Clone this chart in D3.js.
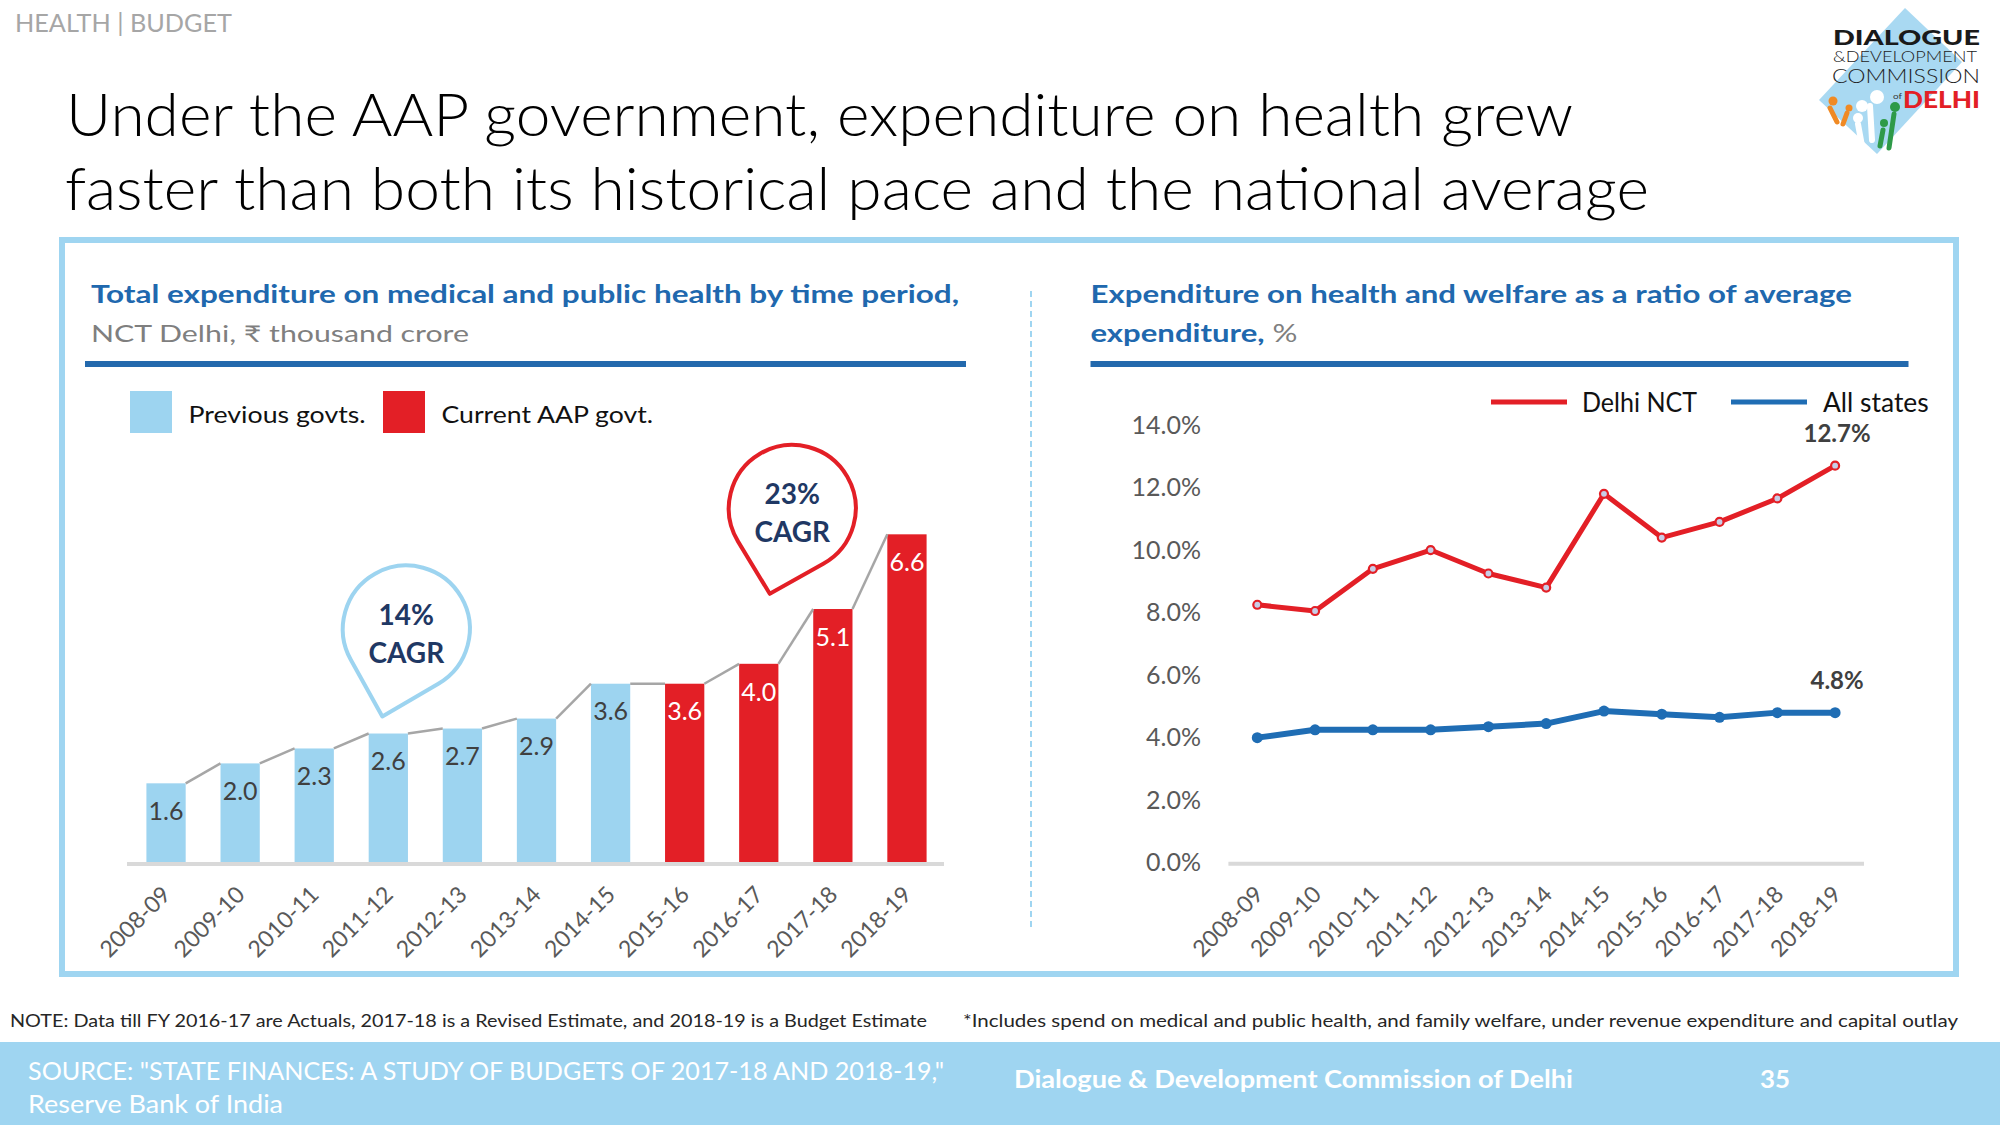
<!DOCTYPE html>
<html><head><meta charset="utf-8">
<script src="https://cdn.jsdelivr.net/npm/d3@7"></script>
<style>
body{margin:0;background:#fff}
svg{display:block}
text{font-family:Lato,"Noto Sans","DejaVu Sans",sans-serif}
</style>
</head><body>
<svg id="c" width="2000" height="1125"></svg>
<script>
// ---------------- DATA ----------------
const categories = ["2008-09","2009-10","2010-11","2011-12","2012-13","2013-14","2014-15","2015-16","2016-17","2017-18","2018-19"];
const expenditure = [1.6, 2.0, 2.3, 2.6, 2.7, 2.9, 3.6, 3.6, 4.0, 5.1, 6.6];
const government = ["prev","prev","prev","prev","prev","prev","prev","aap","aap","aap","aap"];
const govLegend = ["Previous govts.", "Current AAP govt."];
const delhiRatio = [8.25, 8.05, 9.4, 10.0, 9.25, 8.8, 11.8, 10.4, 10.9, 11.65, 12.7];
const allStatesRatio = [4.0, 4.25, 4.25, 4.25, 4.35, 4.45, 4.85, 4.75, 4.65, 4.8, 4.8];
const lineLegend = ["Delhi NCT", "All states"];
const ratioTicks = [0, 2, 4, 6, 8, 10, 12, 14];
const cagrCallouts = [
  {pct: "14%", anchor: "2011-12", value: 2.6, color: "prev"},
  {pct: "23%", anchor: "2016-17", value: 4.0, color: "aap"}
];

// ---------------- STYLE ----------------
const C = {
  light: "#9dd4f0", red: "#e31f26", navy: "#1f3864", blue: "#2068ae",
  lineBlue: "#1f6db4", grey: "#595959", axis: "#d9d9d9", frame: "#9fd5f1"
};
const svg = d3.select("#c");
svg.append("rect").attr("width",2000).attr("height",1125).attr("fill","#fff");

function txt(g, x, y, s, o = {}) {
  const t = g.append("text").attr("x", x).attr("y", y).text(s)
    .attr("font-size", o.size || 20)
    .attr("font-weight", o.weight || 400)
    .attr("fill", o.fill || "#000")
    .attr("text-anchor", o.anchor || "start");
  if (o.len) t.attr("textLength", o.len).attr("lengthAdjust", "spacingAndGlyphs");
  return t;
}

// ---------------- HEADER ----------------
txt(svg, 15, 32, "HEALTH | BUDGET", {size: 25, fill: "#a6a6a6", len: 217});
txt(svg, 66, 136, "Under the AAP government, expenditure on health grew", {size: 60, weight: 300, fill: "#000", len: 1507});
txt(svg, 65, 210, "faster than both its historical pace and the national average", {size: 60, weight: 300, fill: "#000", len: 1584});

// logo
const logo = svg.append("g");
logo.append("polygon").attr("points", "1905,8 1962,62 1877,154 1819,100").attr("fill", "#a9d9f2");
[[1833,101,4.5,"#f08a24"],[1849,108,3.5,"#f08a24"],[1877,97,7,"#fff"],[1862,106,6,"#fff"],[1858,118,5,"#fff"],[1895,107,5,"#2e9a48"],[1884,123,4,"#2e9a48"]]
  .forEach(([x,y,r,f]) => logo.append("circle").attr("cx",x).attr("cy",y).attr("r",r).attr("fill",f));
logo.append("path").attr("d","M1830,108 L1837,122 M1847,113 L1843,124").attr("stroke","#f08a24").attr("stroke-width",5).attr("stroke-linecap","round");
logo.append("path").attr("d","M1870,106 L1872,140 M1858,124 L1862,146").attr("stroke","#fff").attr("stroke-width",6).attr("stroke-linecap","round");
logo.append("path").attr("d","M1894,114 L1889,148 M1883,130 L1880,146").attr("stroke","#2e9a48").attr("stroke-width",5).attr("stroke-linecap","round");
const logoLines = [
  {s: "DIALOGUE", x: 1833, y: 45, size: 20, w: 900, f: "#1a1a1a", len: 147},
  {s: "&DEVELOPMENT", x: 1833, y: 62, size: 15, w: 300, f: "#222", len: 144},
  {s: "COMMISSION", x: 1832, y: 83, size: 19, w: 300, f: "#222", len: 148},
  {s: "of", x: 1893, y: 99, size: 8, w: 400, f: "#333", len: 9},
  {s: "DELHI", x: 1903, y: 108, size: 22, w: 900, f: "#e31f26", len: 77}
];
logoLines.forEach(l => txt(logo, l.x, l.y, l.s, {size: l.size, weight: l.w, fill: l.f, len: l.len}));

// ---------------- FRAME ----------------
svg.append("rect").attr("x",62).attr("y",240).attr("width",1894).attr("height",734)
  .attr("fill","none").attr("stroke",C.frame).attr("stroke-width",6);
svg.append("line").attr("x1",1031).attr("x2",1031).attr("y1",291).attr("y2",931)
  .attr("stroke",C.frame).attr("stroke-width",2).attr("stroke-dasharray","6,4");

// ---------------- LEFT PANEL ----------------
const L = svg.append("g");
txt(L, 91, 303, "Total expenditure on medical and public health by time period,", {size: 24, weight: 700, fill: C.blue, len: 868});
txt(L, 91, 342, "NCT Delhi, ₹ thousand crore", {size: 23, fill: "#7f7f7f", len: 378});
L.append("rect").attr("x",85).attr("y",361).attr("width",881).attr("height",6).attr("fill","#2369ad");

// legend
const legX = [130, 383], legTX = [188.6, 441.5], legLen = [177, 211.5];
govLegend.forEach((s, i) => {
  L.append("rect").attr("x", legX[i]).attr("y", 391).attr("width", 42).attr("height", 42)
    .attr("fill", i === 0 ? C.light : C.red);
  txt(L, legTX[i], 423, s, {size: 23, fill: "#111", len: legLen[i]});
});

const xB = d3.scaleBand().domain(categories).range([129, 944]).paddingInner(0.47).paddingOuter(0.235);
const yB = d3.scaleLinear().domain([0, 7]).range([863, 514.4]);
const bw = xB.bandwidth();

L.selectAll("rect.bar").data(expenditure).join("rect").attr("class","bar")
  .attr("x", (d,i) => xB(categories[i])).attr("width", bw)
  .attr("y", d => yB(d)).attr("height", d => yB(0) - yB(d))
  .attr("fill", (d,i) => government[i] === "prev" ? C.light : C.red);

// connectors
L.selectAll("line.conn").data(expenditure.slice(0, -1)).join("line").attr("class","conn")
  .attr("x1", (d,i) => xB(categories[i]) + bw).attr("y1", d => yB(d))
  .attr("x2", (d,i) => xB(categories[i+1])).attr("y2", (d,i) => yB(expenditure[i+1]))
  .attr("stroke", "#a6a6a6").attr("stroke-width", 2.5);

// bar labels
L.selectAll("text.bl").data(expenditure).join("text").attr("class","bl")
  .attr("x", (d,i) => xB(categories[i]) + bw/2).attr("y", d => yB(d) + 28).attr("dy","0.35em")
  .attr("text-anchor","middle").attr("font-size",25)
  .attr("fill", (d,i) => government[i] === "prev" ? "#404040" : "#fff")
  .text(d => d3.format(".1f")(d));

// axis line
L.append("line").attr("x1",127).attr("x2",944).attr("y1",yB(0)+1).attr("y2",yB(0)+1)
  .attr("stroke",C.axis).attr("stroke-width",4);

const axB = L.append("g").attr("transform",`translate(0,${yB(0)})`)
  .call(d3.axisBottom(xB).tickSize(0));
axB.select(".domain").remove();
axB.selectAll("text").attr("x",0).attr("y",0).attr("dy",null)
  .attr("transform","translate(6,33) rotate(-45)").attr("text-anchor","end")
  .attr("font-size",23).attr("fill",C.grey).attr("font-family","Lato, sans-serif");

// CAGR callouts
function teardrop(cx, cy, r, tx, ty) {
  const dx = tx - cx, dy = ty - cy, d = Math.hypot(dx, dy);
  const base = Math.atan2(dy, dx), a = Math.acos(r / d);
  const p1 = [cx + r*Math.cos(base + a), cy + r*Math.sin(base + a)];
  const p2 = [cx + r*Math.cos(base - a), cy + r*Math.sin(base - a)];
  return `M${tx},${ty}L${p1[0]},${p1[1]}A${r},${r} 0 1 1 ${p2[0]},${p2[1]}Z`;
}
const calloutGeom = [
  {dcx: 18, cyv: 4.7, dtx: -6, tipGap: 17},
  {dcx: 33.5, cyv: 7.12, dtx: 11, tipGap: 70}
];
cagrCallouts.forEach((c, i) => {
  const g = calloutGeom[i];
  const xc = xB(c.anchor) + bw/2;
  const cx = xc + g.dcx, cy = yB(g.cyv), r = 63.5;
  const tx = xc + g.dtx, ty = yB(c.value) - g.tipGap;
  L.append("path").attr("d", teardrop(cx, cy, r, tx, ty)).attr("fill","#fff")
    .attr("stroke", c.color === "prev" ? C.light : C.red).attr("stroke-width", 4).attr("stroke-linejoin","round");
  txt(L, cx, cy - 4, c.pct, {size: 28, weight: 700, fill: C.navy, anchor: "middle"});
  txt(L, cx, cy + 34, "CAGR", {size: 28, weight: 700, fill: C.navy, anchor: "middle"});
});

// ---------------- RIGHT PANEL ----------------
const R = svg.append("g");
txt(R, 1090.5, 303, "Expenditure on health and welfare as a ratio of average", {size: 24, weight: 700, fill: C.blue, len: 761.5});
const t2 = R.append("text").attr("x",1090.5).attr("y",342).attr("font-size",25)
  .attr("textLength", 207).attr("lengthAdjust","spacingAndGlyphs");
t2.append("tspan").attr("font-weight",700).attr("fill",C.blue).text("expenditure,");
t2.append("tspan").attr("fill","#7f7f7f").text(" %");
R.append("rect").attr("x",1090.5).attr("y",361).attr("width",818).attr("height",6).attr("fill","#2369ad");

// legend
const llx = [1491, 1731], ltx = [1582, 1823], llen = [115, 105.7];
lineLegend.forEach((s, i) => {
  R.append("line").attr("x1", llx[i]).attr("x2", llx[i] + 76).attr("y1", 402).attr("y2", 402)
    .attr("stroke", i === 0 ? C.red : C.lineBlue).attr("stroke-width", 5);
  txt(R, ltx[i], 412, s, {size: 26, fill: "#111", len: llen[i]});
});

const xL = d3.scalePoint().domain(categories).range([1228.4, 1864]).padding(0.5);
const yL = d3.scaleLinear().domain([0, 14]).range([862.7, 425]);

R.append("line").attr("x1",1228.4).attr("x2",1864).attr("y1",yL(0)+1).attr("y2",yL(0)+1)
  .attr("stroke",C.axis).attr("stroke-width",4);

const axY = R.append("g").attr("transform","translate(1201,0)")
  .call(d3.axisLeft(yL).tickValues(ratioTicks).tickSize(0).tickPadding(0).tickFormat(d => d3.format(".1f")(d) + "%"));
axY.select(".domain").remove();
axY.selectAll("text").attr("font-size",25).attr("fill",C.grey).attr("font-family","Lato, sans-serif");

const axX = R.append("g").attr("transform",`translate(0,${yL(0)})`)
  .call(d3.axisBottom(xL).tickSize(0));
axX.select(".domain").remove();
axX.selectAll("text").attr("x",0).attr("y",0).attr("dy",null)
  .attr("transform","translate(7,33) rotate(-45)").attr("text-anchor","end")
  .attr("font-size",23).attr("fill",C.grey).attr("font-family","Lato, sans-serif");

const line = d3.line().x((d,i) => xL(categories[i])).y(d => yL(d));
R.append("path").datum(allStatesRatio).attr("d", line).attr("fill","none")
  .attr("stroke", C.lineBlue).attr("stroke-width", 6).attr("stroke-linejoin","round");
R.selectAll("circle.bs").data(allStatesRatio).join("circle").attr("class","bs")
  .attr("cx",(d,i)=>xL(categories[i])).attr("cy",d=>yL(d)).attr("r",5.5).attr("fill",C.lineBlue);
R.append("path").datum(delhiRatio).attr("d", line).attr("fill","none")
  .attr("stroke", C.red).attr("stroke-width", 5).attr("stroke-linejoin","round");
R.selectAll("circle.rd").data(delhiRatio).join("circle").attr("class","rd")
  .attr("cx",(d,i)=>xL(categories[i])).attr("cy",d=>yL(d)).attr("r",4)
  .attr("fill","#c8cde6").attr("stroke",C.red).attr("stroke-width",2.2);

const last = categories[categories.length - 1];
[[delhiRatio], [allStatesRatio]].forEach(([arr]) => {
  const v = arr[arr.length - 1];
  txt(R, xL(last) + 2, yL(v) - 23.5, d3.format(".1f")(v) + "%", {size: 24, weight: 700, fill: "#404040", anchor: "middle"});
});

// ---------------- NOTES & FOOTER ----------------
txt(svg, 10, 1027, "NOTE: Data till FY 2016-17 are Actuals, 2017-18 is a Revised Estimate, and 2018-19 is a Budget Estimate", {size: 18, fill: "#262626", len: 917});
txt(svg, 963, 1027, "*Includes spend on medical and public health, and family welfare, under revenue expenditure and capital outlay", {size: 18, fill: "#262626", len: 995});
svg.append("rect").attr("x",0).attr("y",1042).attr("width",2000).attr("height",83).attr("fill",C.frame);
txt(svg, 28, 1080, 'SOURCE: "STATE FINANCES: A STUDY OF BUDGETS OF 2017-18 AND 2018-19,"', {size: 25, fill: "#fff", len: 916});
txt(svg, 28, 1113, "Reserve Bank of India", {size: 25, fill: "#fff", len: 255});
txt(svg, 1014, 1088, "Dialogue & Development Commission of Delhi", {size: 24, weight: 700, fill: "#fff", len: 559});
txt(svg, 1760, 1088, "35", {size: 24, weight: 700, fill: "#fff", len: 30});
</script>
</body></html>
